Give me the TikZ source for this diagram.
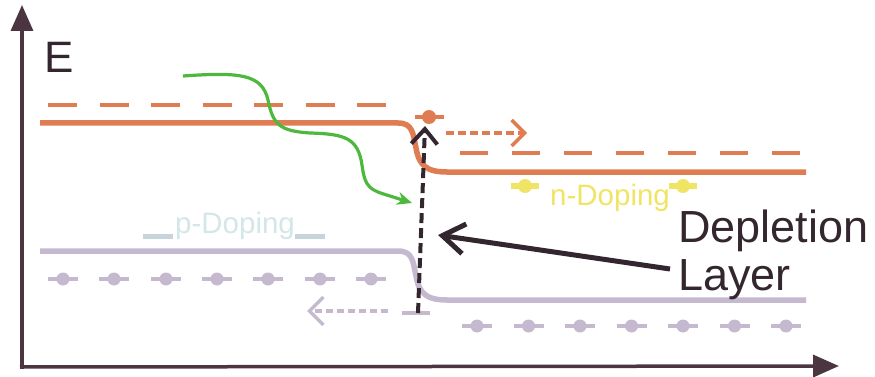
\documentclass[tikz,border=0pt]{standalone}
\usepackage{fontspec}
\setmainfont{Liberation Sans}
\usetikzlibrary{arrows.meta}
\definecolor{axiscol}{HTML}{4B3540}
\definecolor{bandorange}{HTML}{E07C52}
\definecolor{bandlav}{HTML}{C5B9D0}
\definecolor{dopeyellow}{HTML}{F0E464}
\definecolor{pathgreen}{HTML}{4CB83C}
\definecolor{inkdark}{HTML}{34262E}
\definecolor{pdoptext}{HTML}{D3E6E8}
\definecolor{pdopbar}{HTML}{C6D4DC}
\newcommand{\pbar}{\textcolor{pdopbar}{\rule[-6pt]{30pt}{5pt}}}
\begin{document}
\begin{tikzpicture}[x=1pt,y=-1pt,
  axisline/.style={draw=axiscol,line width=3.5pt},
  band/.style={line width=5.5pt,line join=round},
  bandedge/.style={line width=4pt,dash pattern=on 29pt off 22.5pt},
  carrierbar/.style={line width=4pt},
  label/.style={inner sep=0pt,anchor=base west},
  barb/.style={-{Straight Barb[length=#1,width=2*#1]}},
]
\useasboundingbox (0,0) rectangle (875,377);

% axes
\coordinate (orig) at (22,367);
\coordinate (ytip) at (22,5);
\coordinate (xtip) at (839,366);
\draw[axisline,-{Triangle[length=26pt,width=22pt]}] (22,369) -- (ytip);
\draw[axisline,-{Triangle[length=26pt,width=22pt]}] (20,367) -- (xtip);
\node[label,text=inkdark,font=\fontsize{44}{48}\selectfont] (elabel) at (44,73) {E};

% conduction band (orange)
\draw[bandedge,draw=bandorange] (48,105) -- (390,105);
\draw[bandedge,draw=bandorange,dash pattern=on 28pt off 24pt] (460,153) -- (801,153);
\draw[band,draw=bandorange] (40,123) -- (398,123)
  .. controls (413,123) and (413,134) .. (416,148)
  .. controls (419,165) and (426,172) .. (447,172) -- (806,172);

% valence band (lavender)
\draw[band,draw=bandlav] (40,251) -- (398,251)
  .. controls (413,251) and (413,262) .. (416,276)
  .. controls (419,293) and (426,300) .. (447,300) -- (806,300);

% acceptor and donor rows
\foreach \x in {63,114,166,217,268,320,371} {
  \draw[carrierbar,draw=bandlav] (\x-15,279) -- (\x+15,279);
  \fill[bandlav] (\x,279) circle (6.5);
}
\foreach \x in {477,528.5,580,631.5,683,734.5,786} {
  \draw[carrierbar,draw=bandlav] (\x-15,326) -- (\x+15,326);
  \fill[bandlav] (\x,326) circle (6.5);
}

% doping labels
\node[label,font=\fontsize{29.5}{32}\selectfont] (plabel) at (143,233)
  {\pbar\hspace{2pt}\textcolor{pdoptext}{p-Doping}\pbar};
\node[label,text=dopeyellow,font=\fontsize{29.5}{32}\selectfont] (nlabel) at (550,205) {n-Doping};
\foreach \x in {525,683} {
  \draw[line width=6pt,draw=dopeyellow] (\x-14,186) -- (\x+14,186);
  \fill[dopeyellow] (\x,186) circle (7);
}

% electron at the junction and its drift
\draw[carrierbar,line width=3.5pt,draw=bandorange] (415,117) -- (444,117);
\fill[bandorange] (429,117) circle (7);
\coordinate (edriftA) at (446,133);
\coordinate (edriftB) at (527,133);
\draw[bandorange,line width=3.5pt,dash pattern=on 8pt off 4pt,barb=13pt] (edriftA) -- (edriftB);

% hole and its drift
\draw[carrierbar,draw=bandlav] (402,313) -- (430,313);
\coordinate (hdriftA) at (388,311);
\coordinate (hdriftB) at (307,311);
\draw[bandlav,line width=3.5pt,dash pattern=on 7pt off 4pt,barb=14pt] (hdriftA) -- (hdriftB);

% excitation across the gap
\coordinate (exA) at (418,313);
\coordinate (exB) at (425,126);
\draw[inkdark,line width=4pt,dash pattern=on 10pt off 5pt,-{Straight Barb[length=15pt,width=26pt]}] (exA) -- (exB);

% tunnelling path
\coordinate (tunA) at (183,76);
\coordinate (tunB) at (412,203);
\draw[pathgreen,line width=3.2pt,-{Stealth[length=15pt,width=13pt]}] (tunA)
  .. controls (240,72) and (262,74) .. (268,100)
  .. controls (273,125) and (280,131) .. (310,133)
  .. controls (345,134) and (358,138) .. (362,165)
  .. controls (365,188) and (370,190) .. (390,196)
  -- (tunB);

% depletion layer label
\node[label,text=inkdark,font=\fontsize{45}{48}\selectfont] (dep1) at (678,242) {Depletion};
\node[label,text=inkdark,font=\fontsize{45}{48}\selectfont] (dep2) at (678,290) {Layer};
\coordinate (depA) at (670,269);
\coordinate (depB) at (438,235);
\draw[inkdark,line width=5pt,-{Straight Barb[length=22pt,width=30pt]}] (depA) -- (depB);
\end{tikzpicture}
\end{document}
